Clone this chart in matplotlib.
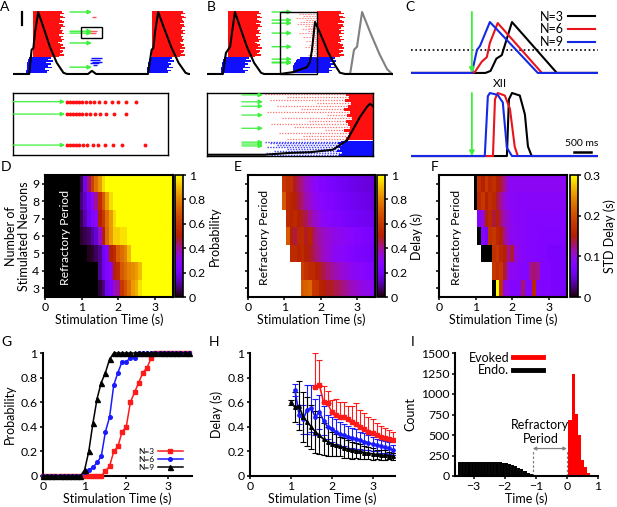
import matplotlib
matplotlib.use("Agg")
import matplotlib.pyplot as plt
import numpy as np
from matplotlib.lines import Line2D
from matplotlib.patches import Rectangle
from matplotlib.ticker import FuncFormatter

W, H = 617, 507

GREEN = "#3cf03c"
RED = "#ff1010"
BLUE = "#1010ff"
GRAY = "#808080"

# ---------------- A: traces (time s, normalized amplitude) ----------------
A_trace_t = [0.0, 0.54, 0.62, 0.68, 0.73, 0.84, 1.01, 1.23, 1.46, 1.68, 1.79,
             2.50, 2.63, 2.77, 4.50, 4.62, 4.68, 4.73, 4.84, 5.02, 5.27, 5.52, 5.75, 5.85, 5.90]
A_trace_a = [0.0, 0.0, 0.39, 0.42, 0.66, 1.0, 0.76, 0.44, 0.18, 0.02, 0.0,
             0.0, 0.05, 0.0, 0.0, 0.39, 0.42, 0.66, 1.0, 0.76, 0.44, 0.18, 0.02, 0.0, 0.0]
A_red1_start = 0.67
A_red1_end = [1.62, 1.70, 1.55, 1.66, 1.74, 1.58, 1.64, 1.69, 1.52, 1.67, 1.73, 1.60,
              1.56, 1.68, 1.63, 1.71, 1.54, 1.65, 1.59, 1.70, 1.62, 1.50, 1.57, 1.66,
              1.60, 1.72, 1.55, 1.68, 1.64, 1.58, 1.70, 1.53]
A_blue1_start = [0.52, 0.50, 0.49, 0.48, 0.47, 0.46, 0.45, 0.45, 0.44, 0.43]
A_blue1_end = [1.28, 1.18, 1.32, 1.10, 1.25, 1.15, 1.30, 1.05, 1.20, 1.12]
A_red2_start = 4.63
A_red2_end = [5.66, 5.72, 5.60, 5.69, 5.75, 5.62, 5.68, 5.71, 5.58, 5.70, 5.74, 5.63,
              5.60, 5.72, 5.66, 5.73, 5.59, 5.68, 5.62, 5.71, 5.65, 5.56, 5.61, 5.69,
              5.64, 5.74, 5.58, 5.70, 5.67, 5.61, 5.72, 5.57]
A_blue2_start = [4.55, 4.53, 4.52, 4.51, 4.50, 4.49, 4.48, 4.47, 4.47, 4.46]
A_blue2_end = [5.30, 5.22, 5.36, 5.18, 5.28, 5.20, 5.33, 5.12, 5.25, 5.16]
A_extra_blue_a = [0.26, 0.23, 0.20, 0.17, 0.14]
A_extra_blue_start = [2.60, 2.58, 2.62, 2.57, 2.65]
A_extra_blue_end = [2.98, 2.90, 2.95, 2.85, 2.80]
A_extra_red_a = [0.92, 0.69, 0.66]
A_extra_red_start = [2.63, 2.55, 2.58]
A_extra_red_end = [2.77, 2.80, 2.75]
A_stim_a = [1.0, 0.69, 0.66, 0.50, 0.11]
# A inset (ms)
A_in_rows = [0.86, 0.66, 0.16]
A_in_dots = [
    [242, 256, 270, 283, 298, 313, 330, 348, 367, 388, 416, 446, 476, 510, 555],
    [242, 256, 270, 283, 298, 313, 330, 348, 370, 393, 420, 456, 510],
    [242, 256, 270, 285, 300, 316, 336, 360, 385, 416, 450, 492, 596],
]

# ---------------- B ----------------
B_trace_t = [0.0, 0.53, 0.63, 0.77, 0.93, 1.10, 1.33, 1.57, 1.80, 1.90,
             2.43, 2.87, 3.33, 3.43, 3.50, 3.60, 3.77, 4.03, 4.27, 4.43, 4.60, 6.20]
B_trace_a = [0.0, 0.0, 0.34, 0.44, 1.0, 0.76, 0.44, 0.18, 0.02, 0.0,
             0.0, 0.03, 0.11, 0.19, 0.39, 0.84, 0.66, 0.36, 0.14, 0.02, 0.0, 0.0]
B_gray_t = [4.60, 4.77, 4.90, 5.00, 5.17, 5.45, 5.75, 6.00, 6.17]
B_gray_a = [0.0, 0.0, 0.39, 0.44, 1.0, 0.66, 0.32, 0.08, 0.0]
B_red1_start = 0.70
B_red1_end = [1.72, 1.80, 1.65, 1.76, 1.83, 1.68, 1.74, 1.79, 1.62, 1.77, 1.82, 1.70,
              1.66, 1.78, 1.73, 1.81, 1.64, 1.75, 1.69, 1.80, 1.72, 1.60, 1.67, 1.76,
              1.70, 1.82, 1.63, 1.78, 1.74, 1.66, 1.80, 1.61]
B_blue1_start = [0.55, 0.53, 0.52, 0.51, 0.50, 0.49, 0.48, 0.47, 0.47, 0.46]
B_blue1_end = [1.40, 1.30, 1.45, 1.25, 1.38, 1.28, 1.43, 1.20, 1.35, 1.27]
B_red2_start = 3.67
B_red2_end = [4.45, 4.55, 4.40, 4.52, 4.60, 4.42, 4.50, 4.56, 4.38, 4.53, 4.58, 4.46,
              4.41, 4.55, 4.48, 4.57, 4.40, 4.51, 4.44, 4.56, 4.47, 4.36, 4.43, 4.52,
              4.49, 4.58, 4.41, 4.54, 4.46, 4.39, 4.55, 4.42]
B_pink2_start = [2.90, 3.05, 3.20, 2.95, 3.30, 3.10, 3.00, 3.25, 3.40, 3.15, 3.35, 3.05,
                 3.45, 3.20, 3.50, 3.30, 3.55, 3.40, 3.25, 3.50, 3.45, 3.60, 3.35, 3.55]
B_blue2_start = [3.10, 3.00, 2.95, 2.92, 2.90, 2.88, 2.87, 2.86, 2.86, 2.85]
B_blue2_end = [4.25, 4.15, 4.30, 4.10, 4.22, 4.12, 4.28, 4.05, 4.18, 4.08]
B_stim_a = [1.0, 0.87, 0.82, 0.66, 0.44, 0.24, 0.19, 0.18]
# B inset (ms)
B_in_stim_a = [0.97, 0.86, 0.79, 0.65, 0.44, 0.22, 0.19, 0.16]
B_in_red_solid = [1040, 1060, 1030, 1075, 1050, 1020, 1065, 1045,
                  1080, 1035, 1055, 1070, 1025, 1060, 1050, 1040]
B_in_red_dot = [430, 600, 470, 820, 520, 700, 450, 900, 560, 760, 480, 650, 880, 540, 720, 600]
B_in_blue_solid = [1000, 980, 1010, 960, 990, 970, 1005, 985]
B_in_blue_dot = [430, 470, 520, 450, 600, 500, 440, 480]
B_in_trace_t = [0, 433, 620, 770, 941, 1046, 1143, 1195, 1218, 1240]
B_in_trace_a = [0.02, 0.02, 0.05, 0.06, 0.10, 0.25, 0.62, 0.78, 0.83, 0.79]

# ---------------- C (time from stimulus, s) ----------------
C_top = {
    "N=3": ([-1.8, 0.40, 0.55, 0.72, 0.88, 1.18, 2.50, 3.75],
            [0, 0, 0.04, 0.28, 0.35, 1.0, 0, 0]),
    "N=6": ([-1.8, 0.0, 0.09, 0.29, 0.44, 0.53, 0.76, 2.06, 3.75],
            [0, 0, 0.02, 0.22, 0.31, 0.59, 0.98, 0, 0]),
    "N=9": ([-1.8, 0.0, 0.15, 0.24, 0.53, 1.94, 3.75],
            [0, 0, 0.45, 0.53, 1.0, 0, 0]),
}
C_bot = {
    "N=3": ([-1.8, 1.03, 1.09, 1.18, 1.41, 1.56, 1.65, 1.76, 3.75],
            [0, 0, 0.9, 1.0, 0.96, 0.66, 0.15, 0, 0]),
    "N=6": ([-1.8, 0.62, 0.68, 0.76, 0.97, 1.12, 1.26, 1.35, 3.75],
            [0, 0, 0.9, 1.0, 0.96, 0.75, 0.15, 0, 0]),
    "N=9": ([-1.8, 0.38, 0.47, 0.53, 0.76, 0.91, 1.03, 1.18, 3.75],
            [0, 0, 0.95, 1.0, 0.97, 0.85, 0.13, 0, 0]),
}
C_colors = {"N=3": "black", "N=6": "#e8141c", "N=9": "#1428e6"}
C_threshold = 0.45

# ---------------- D/E/F heatmaps ----------------
neurons = [3, 4, 5, 6, 7, 8, 9]
bin_t = np.round(np.arange(0, 3.51, 0.1), 2)  # 0.0 ... 3.5
# probability: onset time, ramp values, then saturated at 1
prob_rows = {
    3: (1.5, [0.04, 0.08, 0.2, 0.24, 0.36, 0.4, 0.6, 0.68, 0.76, 0.84, 0.88, 0.96]),
    4: (1.5, [0.1, 0.2, 0.25, 0.3, 0.5, 0.55, 0.7, 0.75, 0.8, 0.82, 0.85, 0.9]),
    5: (1.2, [0.02, 0.03, 0.06, 0.1, 0.2, 0.25, 0.5, 0.55, 0.7, 0.75, 0.8, 0.9]),
    6: (1.0, [0.03, 0.05, 0.07, 0.11, 0.16, 0.36, 0.48, 0.74, 0.84, 0.93, 0.93, 0.96, 0.96]),
    7: (1.0, [0.05, 0.12, 0.2, 0.25, 0.3, 0.5, 0.6, 0.75, 0.85, 0.95]),
    8: (1.0, [0.08, 0.15, 0.22, 0.3, 0.4, 0.55, 0.7, 0.85, 0.95]),
    9: (1.0, [0.05, 0.2, 0.43, 0.63, 0.76, 0.84, 0.95]),
}
delay_rows = {
    3: (1.5, [0.70, 0.72, 0.74, 0.60, 0.59, 0.52, 0.50, 0.48, 0.48, 0.46, 0.44, 0.42, 0.40,
              0.38, 0.36, 0.35, 0.33, 0.32, 0.31, 0.30, 0.29]),
    4: (1.5, [0.62, 0.58, 0.55, 0.55, 0.50, 0.48, 0.45, 0.42, 0.40, 0.38, 0.36, 0.34, 0.33,
              0.32, 0.30, 0.29, 0.28, 0.27, 0.26, 0.25, 0.24]),
    5: (1.2, [0.55, 0.55, 0.52, 0.55, 0.50, 0.48, 0.45, 0.42, 0.38, 0.36, 0.34, 0.32, 0.30,
              0.29, 0.28, 0.27, 0.26, 0.25, 0.24, 0.235, 0.23, 0.22, 0.215, 0.21]),
    6: (1.1, [0.70, 0.50, 0.46, 0.54, 0.55, 0.48, 0.52, 0.45, 0.40, 0.38, 0.36, 0.34, 0.33,
              0.32, 0.31, 0.30, 0.29, 0.28, 0.27, 0.26, 0.25, 0.24, 0.235, 0.225, 0.21]),
    7: (1.1, [0.55, 0.52, 0.55, 0.50, 0.47, 0.45, 0.40, 0.37, 0.34, 0.31, 0.29, 0.28, 0.27,
              0.26, 0.25, 0.24, 0.23, 0.22, 0.215, 0.21, 0.205, 0.20, 0.195, 0.19, 0.185]),
    8: (1.0, [0.70, 0.55, 0.52, 0.50, 0.45, 0.42, 0.38, 0.35, 0.32, 0.30, 0.28, 0.27, 0.26,
              0.25, 0.24, 0.23, 0.22, 0.215, 0.21, 0.20, 0.195, 0.19, 0.185, 0.18, 0.175, 0.17]),
    9: (1.0, [0.60, 0.56, 0.57, 0.48, 0.44, 0.40, 0.36, 0.33, 0.30, 0.28, 0.26, 0.25, 0.24,
              0.23, 0.22, 0.21, 0.205, 0.20, 0.19, 0.185, 0.18, 0.175, 0.17, 0.17, 0.165, 0.16]),
}
std_rows = {
    3: (1.5, [0.0, 0.30, 0.17, 0.10, 0.09, 0.08, 0.08, 0.08, 0.13, 0.08, 0.08, 0.16, 0.08,
              0.075, 0.075, 0.075, 0.07, 0.07, 0.07, 0.07, 0.07]),
    4: (1.5, [0.18, 0.17, 0.18, 0.14, 0.10, 0.09, 0.09, 0.085, 0.08, 0.08, 0.12, 0.13, 0.12,
              0.08, 0.075, 0.075, 0.07, 0.07, 0.07, 0.07, 0.07]),
    5: (1.2, [0.0, 0.0, 0.0, 0.17, 0.18, 0.16, 0.15, 0.12, 0.14, 0.10, 0.09, 0.085, 0.08,
              0.08, 0.08, 0.075, 0.075, 0.075, 0.07, 0.07, 0.07, 0.07, 0.07, 0.07]),
    6: (1.1, [0.0, 0.08, 0.07, 0.17, 0.18, 0.16, 0.15, 0.12, 0.10, 0.09, 0.09, 0.085, 0.085,
              0.08, 0.08, 0.08, 0.08, 0.075, 0.075, 0.075, 0.075, 0.075, 0.075, 0.075, 0.075]),
    7: (1.1, [0.08, 0.10, 0.15, 0.16, 0.14, 0.15, 0.13, 0.11, 0.10, 0.09, 0.085, 0.085, 0.085,
              0.08, 0.08, 0.08, 0.08, 0.08, 0.08, 0.08, 0.08, 0.08, 0.08, 0.08, 0.08]),
    8: (1.0, [0.0, 0.16, 0.18, 0.15, 0.17, 0.16, 0.14, 0.12, 0.10, 0.09, 0.09, 0.085, 0.085,
              0.085, 0.085, 0.085, 0.085, 0.085, 0.085, 0.085, 0.085, 0.085, 0.085, 0.085, 0.085, 0.085]),
    9: (1.0, [0.0, 0.17, 0.15, 0.18, 0.16, 0.17, 0.15, 0.14, 0.12, 0.09, 0.09, 0.09, 0.09,
              0.09, 0.09, 0.09, 0.09, 0.09, 0.09, 0.09, 0.09, 0.09, 0.09, 0.09, 0.09, 0.09]),
}

# ---------------- G: probability vs stimulation time ----------------
G_prob = {
    "N=3": [0] * 15 + [0.04, 0.08, 0.2, 0.24, 0.36, 0.4, 0.6, 0.68, 0.76, 0.84, 0.88, 0.96] + [1] * 9,
    "N=6": [0] * 10 + [0.03, 0.05, 0.07, 0.11, 0.16, 0.36, 0.48, 0.74, 0.84, 0.93, 0.93, 0.96, 0.96] + [1] * 13,
    "N=9": [0] * 10 + [0.05, 0.2, 0.43, 0.63, 0.76, 0.84, 0.95] + [1] * 19,
}

# ---------------- H: delay vs stimulation time ----------------
H_t3 = [1.6, 1.7, 1.8, 1.9, 2.0, 2.1, 2.2, 2.3, 2.4, 2.5, 2.6, 2.7, 2.8, 2.9, 3.0, 3.1, 3.2, 3.3, 3.4, 3.5]
H_d3 = [0.72, 0.74, 0.60, 0.59, 0.52, 0.50, 0.48, 0.48, 0.46, 0.44, 0.42, 0.40, 0.38, 0.36,
        0.35, 0.33, 0.32, 0.31, 0.30, 0.29]
H_e3 = [0.28, 0.20, 0.13, 0.10, 0.10, 0.13, 0.12, 0.12, 0.11, 0.13, 0.17, 0.14, 0.13, 0.12,
        0.11, 0.10, 0.09, 0.08, 0.07, 0.07]
H_t6 = [1.1, 1.2, 1.3, 1.4, 1.5, 1.6, 1.7, 1.8, 1.9, 2.0, 2.1, 2.2, 2.3, 2.4, 2.5, 2.6, 2.7,
        2.8, 2.9, 3.0, 3.1, 3.2, 3.3, 3.4, 3.5]
H_d6 = [0.70, 0.50, 0.46, 0.54, 0.55, 0.48, 0.52, 0.45, 0.40, 0.38, 0.36, 0.34, 0.33, 0.32,
        0.31, 0.30, 0.29, 0.28, 0.27, 0.26, 0.25, 0.24, 0.235, 0.225, 0.21]
H_e6 = [0.05, 0.08, 0.12, 0.20, 0.19, 0.15, 0.14, 0.12, 0.10, 0.10, 0.10, 0.10, 0.09, 0.09,
        0.08, 0.08, 0.07, 0.07, 0.06, 0.06, 0.05, 0.05, 0.05, 0.05, 0.04]
H_t9 = [1.0, 1.1, 1.2, 1.3, 1.4, 1.5, 1.6, 1.7, 1.8, 1.9, 2.0, 2.1, 2.2, 2.3, 2.4, 2.5, 2.6,
        2.7, 2.8, 2.9, 3.0, 3.1, 3.2, 3.3, 3.4, 3.5]
H_d9 = [0.60, 0.56, 0.57, 0.48, 0.44, 0.40, 0.36, 0.33, 0.30, 0.28, 0.26, 0.25, 0.24, 0.23,
        0.22, 0.21, 0.205, 0.20, 0.19, 0.185, 0.18, 0.175, 0.17, 0.17, 0.165, 0.16]
H_e9 = [0.02, 0.12, 0.20, 0.20, 0.20, 0.18, 0.17, 0.15, 0.13, 0.12, 0.10, 0.09, 0.08, 0.08,
        0.07, 0.07, 0.06, 0.06, 0.05, 0.05, 0.05, 0.04, 0.04, 0.04, 0.03, 0.03]

# ---------------- I: histogram ----------------
I_endo_left = -3.5
I_endo_counts = [172, 172, 171, 171, 170, 170, 170, 169, 169, 168, 168, 167, 166, 165,
                 163, 158, 148, 135, 118, 100, 80, 60, 40, 20]
I_evoked_left = 0.05
I_evoked_counts = [680, 1250, 760, 500, 200, 110, 40, 15]
I_bin = 0.1
I_refractory = (-1.1, 0.0)


plt.rcParams.update({
    "font.family": ["Lato", "DejaVu Sans"],
    "font.size": 8.5,
    "axes.linewidth": 1.3,
    "xtick.major.width": 1.1,
    "ytick.major.width": 1.1,
    "xtick.major.size": 2.5,
    "ytick.major.size": 2.5,
    "xtick.major.pad": 1.2,
    "ytick.major.pad": 1.5,
    "xtick.labelsize": 8.8,
    "ytick.labelsize": 8.8,
    "axes.labelsize": 9,
})

fmt_g = FuncFormatter(lambda v, p: f"{v:g}")


def px_axes(fig, x0, y0, x1, y1):
    return fig.add_axes([x0 / W, 1 - y1 / H, (x1 - x0) / W, (y1 - y0) / H])


def stim_arrow(ax, x0, y0, x1, y1, lw=1.0, ms=6):
    ax.annotate("", xy=(x1, y1), xytext=(x0, y0),
                arrowprops=dict(arrowstyle="-|>", color=GREEN, lw=lw,
                                mutation_scale=ms, shrinkA=0, shrinkB=0))


def raster(ax, lo, hi, starts, ends, color):
    n = len(ends)
    rows = np.linspace(hi, lo, n)
    h = (hi - lo) / max(n - 1, 1)
    starts = np.broadcast_to(np.asarray(starts, float), (n,))
    ax.barh(rows, np.asarray(ends) - starts, left=starts, height=h,
            color=color, lw=0, zorder=1)


fig = plt.figure(figsize=(W / 100, H / 100), dpi=100)

# ---------------- panel A ----------------
axA = px_axes(fig, 13, 8.3, 190, 77.7)
axA.set_xlim(0, 5.9)
axA.set_ylim(-0.06, 1.06)
axA.axis("off")
raster(axA, 0.28, 1.0, A_red1_start, A_red1_end, RED)
raster(axA, 0.03, 0.26, A_blue1_start, A_blue1_end, BLUE)
raster(axA, 0.28, 1.0, A_red2_start, A_red2_end, RED)
raster(axA, 0.03, 0.26, A_blue2_start, A_blue2_end, BLUE)
axA.hlines(A_extra_blue_a, A_extra_blue_start, A_extra_blue_end, color=BLUE, lw=1.0)
axA.hlines(A_extra_red_a, A_extra_red_start, A_extra_red_end, color=RED, lw=1.0, alpha=0.7)
axA.plot(A_trace_t, A_trace_a, color="k", lw=1.5, zorder=3)
for a in A_stim_a:
    stim_arrow(axA, 1.9, a, 2.63, a)
axA.add_patch(Rectangle((2.27, 0.58), 0.70, 0.18, fill=False, ec="k", lw=1.0, zorder=4))
axA.plot([0.3, 0.3], [0.79, 1.0], color="k", lw=1.6, clip_on=False)

axAi = px_axes(fig, 13, 93, 168, 155)
axAi.set_xlim(0, 700)
axAi.set_ylim(0, 1)
axAi.set_xticks([])
axAi.set_yticks([])
for s in axAi.spines.values():
    s.set_linewidth(1.0)
for row, dots in zip(A_in_rows, A_in_dots):
    stim_arrow(axAi, 0, row, 235, row, lw=0.9)
    axAi.plot(dots, [row] * len(dots), "o", color=RED, ms=2.8, mec="none")

# ---------------- panel B ----------------
axB = px_axes(fig, 207, 8.3, 393, 77.7)
axB.set_xlim(0, 6.2)
axB.set_ylim(-0.06, 1.06)
axB.axis("off")
raster(axB, 0.28, 1.0, B_red1_start, B_red1_end, RED)
raster(axB, 0.03, 0.26, B_blue1_start, B_blue1_end, BLUE)
rows_p = np.linspace(1.0, 0.28, len(B_pink2_start))
axB.hlines(rows_p, B_pink2_start, B_red2_start, color=RED, lw=0.8, alpha=0.45,
           linestyles=(0, (1.5, 1.0)))
raster(axB, 0.28, 1.0, B_red2_start, B_red2_end, RED)
raster(axB, 0.03, 0.26, B_blue2_start, B_blue2_end, BLUE)
axB.plot(B_gray_t, B_gray_a, color=GRAY, lw=1.5, zorder=3)
axB.plot(B_trace_t, B_trace_a, color="k", lw=1.5, zorder=3)
for a in B_stim_a:
    stim_arrow(axB, 2.17, a, 2.83, a)
axB.add_patch(Rectangle((2.43, 0.0), 1.24, 1.0, fill=False, ec="k", lw=1.0, zorder=4))

axBi = px_axes(fig, 207, 93, 373, 156)
axBi.set_xlim(0, 1240)
axBi.set_ylim(0, 1)
axBi.set_xticks([])
axBi.set_yticks([])
for s in axBi.spines.values():
    s.set_linewidth(1.0)
rows_r = np.linspace(0.98, 0.27, len(B_in_red_solid))
axBi.hlines(rows_r, B_in_red_dot, B_in_red_solid, color=RED, lw=0.9, alpha=0.6,
            linestyles=(0, (1.0, 1.2)))
raster(axBi, 0.27, 0.98, B_in_red_solid, [1240] * len(B_in_red_solid), RED)
rows_b = np.linspace(0.23, 0.02, len(B_in_blue_solid))
axBi.hlines(rows_b, B_in_blue_dot, B_in_blue_solid, color=BLUE, lw=1.0, alpha=0.8,
            linestyles=(0, (1.0, 1.0)))
raster(axBi, 0.02, 0.23, B_in_blue_solid, [1240] * len(B_in_blue_solid), BLUE)
axBi.plot(B_in_trace_t, B_in_trace_a, color="k", lw=1.5, zorder=3)
for a in B_in_stim_a:
    stim_arrow(axBi, 261, a, 418, a, lw=0.9)

# ---------------- panel C ----------------
axC1 = px_axes(fig, 411, 9.8, 598, 76)
axC1.set_xlim(-1.79, 3.71)
axC1.set_ylim(-0.06, 1.24)
axC1.axis("off")
axC1.axhline(C_threshold, color="k", lw=1.2, ls=(0, (1, 1.6)))
for key in ["N=3", "N=6", "N=9"]:
    t, a = C_top[key]
    axC1.plot(t, a, color=C_colors[key], lw=1.5, label=key)
stim_arrow(axC1, 0, 1.2, 0, 0.0, lw=1.3, ms=7)
axC1.legend(loc="upper right", bbox_to_anchor=(1.02, 1.08), frameon=False,
            markerfirst=False, handlelength=2.2, handletextpad=0.3,
            labelspacing=0.05, fontsize=9, borderpad=0)

axC2 = px_axes(fig, 411, 80.4, 598, 159.8)
axC2.set_xlim(-1.79, 3.71)
axC2.set_ylim(-0.06, 1.2)
axC2.axis("off")
for key in ["N=3", "N=6", "N=9"]:
    t, a = C_bot[key]
    axC2.plot(t, a, color=C_colors[key], lw=1.5)
stim_arrow(axC2, 0, 1.0, 0, 0.0, lw=1.3, ms=7)
axC2.text(0.82, 1.06, "XII", ha="center", va="bottom", fontsize=8.5)
axC2.plot([3.0, 3.5], [0.065, 0.065], color="k", lw=1.8)
axC2.text(3.24, 0.13, "500 ms", ha="center", va="bottom", fontsize=7.5)

# ---------------- panels D/E/F ----------------
x_edges = np.linspace(-0.05, 3.55, len(bin_t) + 1)
y_edges = np.arange(2.5, 10.0, 1.0)


def build(rows, before, after):
    mat = np.full((len(neurons), len(bin_t)), np.nan)
    for i, n in enumerate(neurons):
        onset, vals = rows[n]
        k = int(round(onset * 10))
        mat[i, :k] = before
        mat[i, k:k + len(vals)] = vals
        mat[i, k + len(vals):] = after
    return mat


prob_mat = build(prob_rows, 0.0, 1.0)
delay_mat = build(delay_rows, np.nan, np.nan)
std_mat = build(std_rows, np.nan, np.nan)

cmap = plt.get_cmap("gnuplot").copy()
cmap.set_bad("white")


def heat(rect, crect, mat, vmax, cticks, clabel, ref_x, ref_color, ylabels):
    ax = px_axes(fig, *rect)
    m = ax.pcolormesh(x_edges, y_edges, mat, cmap=cmap, vmin=0, vmax=vmax)
    ax.set_xlim(0, 3.5)
    ax.set_ylim(2.5, 9.5)
    ax.set_xticks([0, 1, 2, 3])
    ax.set_yticks(neurons)
    if not ylabels:
        ax.set_yticklabels([])
    ax.set_xlabel("Stimulation Time (s)", labelpad=0)
    ax.text(ref_x, 5.9, "Refractory Period", rotation=90, ha="center", va="center",
            color=ref_color, fontsize=8.8)
    for s in ax.spines.values():
        s.set_linewidth(1.5)
    cax = px_axes(fig, *crect)
    cb = fig.colorbar(m, cax=cax)
    cb.set_ticks(cticks)
    cb.ax.yaxis.set_major_formatter(fmt_g)
    cb.outline.set_linewidth(1.2)
    cb.set_label(clabel, labelpad=2)
    return ax


axD = heat((45, 175, 173, 297), (175, 175, 183, 297), prob_mat, 1.0,
           [0, 0.2, 0.4, 0.6, 0.8, 1], "Probability", 0.55, "white", True)
axD.set_ylabel("Number of\nStimulated Neurons", labelpad=2, linespacing=1.05)
heat((248, 175, 375, 297), (377, 175, 385, 297), delay_mat, 1.0,
     [0, 0.2, 0.4, 0.6, 0.8, 1], "Delay (s)", 0.46, "black", False)
heat((439, 175, 567, 297), (570, 175, 578, 297), std_mat, 0.3,
     [0, 0.1, 0.2, 0.3], "STD Delay (s)", 0.49, "black", False)


def style_line_axes(ax):
    ax.spines[["top", "right"]].set_visible(False)
    ax.spines[["left", "bottom"]].set_linewidth(1.5)


# ---------------- panel G ----------------
axG = px_axes(fig, 43, 353, 192, 476)
G_style = {"N=3": ("#ff1a1a", "s", 3.0), "N=6": ("#1a1aff", "o", 2.6), "N=9": ("k", "^", 3.6)}
for key in ["N=3", "N=6", "N=9"]:
    c, mk, ms = G_style[key]
    axG.plot(bin_t, G_prob[key], color=c, marker=mk, ms=ms, lw=1.1, label=key,
             clip_on=False, zorder=3)
axG.set_xlim(0, 3.58)
axG.set_ylim(0, 1)
axG.set_xticks([0, 1, 2, 3])
axG.set_yticks([0, 0.2, 0.4, 0.6, 0.8, 1])
axG.yaxis.set_major_formatter(fmt_g)
axG.set_xlabel("Stimulation Time (s)", labelpad=0)
axG.set_ylabel("Probability", labelpad=3)
style_line_axes(axG)
axG.legend(loc="lower right", bbox_to_anchor=(0.97, 0.0), frameon=False, markerfirst=False,
           fontsize=6, handlelength=3.0, handletextpad=0.4, labelspacing=0.15, borderpad=0.1)

# ---------------- panel H ----------------
axH = px_axes(fig, 250, 353, 395, 476)
axH.errorbar(H_t3, H_d3, yerr=[np.zeros(len(H_e3)), H_e3], fmt="-s", color="#ff1a1a",
             ms=2.6, lw=1.2, elinewidth=0.8, capsize=2, capthick=0.8)
axH.errorbar(H_t6, H_d6, yerr=H_e6, fmt="-o", color="#1a1aff",
             ms=2.4, lw=1.2, elinewidth=0.8, capsize=2, capthick=0.8)
axH.errorbar(H_t9, H_d9, yerr=H_e9, fmt="-^", color="k",
             ms=2.6, lw=1.2, elinewidth=0.8, capsize=2, capthick=0.8)
axH.set_xlim(0, 3.55)
axH.set_ylim(0, 1)
axH.set_xticks([0, 1, 2, 3])
axH.set_yticks([0, 0.2, 0.4, 0.6, 0.8, 1])
axH.yaxis.set_major_formatter(fmt_g)
axH.set_xlabel("Stimulation Time (s)", labelpad=0)
axH.set_ylabel("Delay (s)", labelpad=3)
style_line_axes(axH)

# ---------------- panel I ----------------
axI = px_axes(fig, 455, 353, 598, 476)
endo_edges = I_endo_left + I_bin * np.arange(len(I_endo_counts) + 1)
evo_edges = I_evoked_left + I_bin * np.arange(len(I_evoked_counts) + 1)
axI.stairs(I_endo_counts, endo_edges, fill=True, color="k")
axI.vlines(endo_edges[1:-1], 0, np.minimum(I_endo_counts[:-1], I_endo_counts[1:]),
           colors="#262626", lw=0.3)
axI.stairs(I_evoked_counts, evo_edges, fill=True, color="#ff0000")
r0, r1 = I_refractory
axI.vlines([r0, r1], 0, 320, colors=GRAY, linestyles=(0, (2, 1.5)), lw=0.9)
axI.annotate("", xy=(r1, 335), xytext=(r0, 335),
             arrowprops=dict(arrowstyle="<->", color=GRAY, lw=0.9, mutation_scale=5,
                             shrinkA=0, shrinkB=0))
axI.text((r0 + r1) / 2 - 0.3, 540, "Refractory\nPeriod", ha="center", va="center",
         fontsize=9, linespacing=1.2)
axI.set_xlim(-3.6, 1.0)
axI.set_ylim(0, 1500)
axI.set_xticks([-3, -2, -1, 0, 1])
axI.set_yticks([0, 250, 500, 750, 1000, 1250, 1500])
axI.set_xlabel("Time (s)", labelpad=0)
axI.set_ylabel("Count", labelpad=3)
style_line_axes(axI)
axI.legend([Line2D([], [], color="#ff0000", lw=3.5), Line2D([], [], color="k", lw=3.5)],
           ["Evoked", "Endo."], loc="upper left", bbox_to_anchor=(0.05, 1.06),
           frameon=False, markerfirst=False, fontsize=9, handlelength=2.4,
           handletextpad=0.3, labelspacing=0.05, borderpad=0)

# ---------------- panel letters ----------------
for letter, x, y in [("A", 0, 1), ("B", 207, 1), ("C", 405, 1),
                     ("D", 1, 161), ("E", 234, 161), ("F", 431, 161),
                     ("G", 1, 336), ("H", 209, 336), ("I", 411, 336)]:
    fig.text(x / W, 1 - y / H, letter, ha="left", va="top", fontsize=10)

fig.savefig("out.png", dpi=100)
